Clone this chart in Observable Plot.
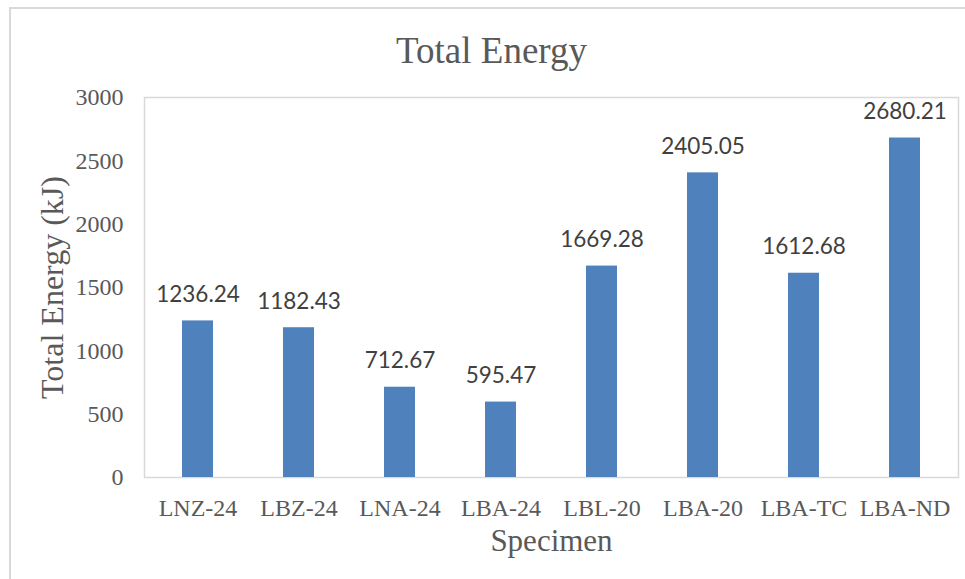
<!DOCTYPE html>
<html>
<head>
<meta charset="utf-8">
<script src="https://cdn.jsdelivr.net/npm/d3@7"></script>
<script src="https://cdn.jsdelivr.net/npm/@observablehq/plot@0.6"></script>
<style>
  html, body { margin: 0; padding: 0; background: #fff; overflow: hidden; }
  #wrap { position: relative; width: 965px; height: 579px; }
  #border { position: absolute; left: 9px; top: 7px; width: 1000px; height: 620px;
            border: 2px solid #d9d9d9; pointer-events: none; }
</style>
</head>
<body>
<div id="wrap"><div id="border"></div></div>
<script>
// Specimens and their total energy (kJ)
const specimens = ["LNZ-24", "LBZ-24", "LNA-24", "LBA-24", "LBL-20", "LBA-20", "LBA-TC", "LBA-ND"];
const energy = [1236.24, 1182.43, 712.67, 595.47, 1669.28, 2405.05, 1612.68, 2680.21];
const yTicks = [0, 500, 1000, 1500, 2000, 2500, 3000];

const rows = specimens.map((s, i) => ({specimen: s, energy: energy[i]}));

const serif = "'Liberation Serif', 'Times New Roman', serif";
const gray = "#595959";

const chart = Plot.plot({
  width: 965,
  height: 579,
  marginLeft: 144,
  marginRight: 7,
  marginTop: 97,
  marginBottom: 102,
  style: {fontFamily: serif, color: gray, background: "transparent", overflow: "visible"},
  x: {domain: specimens, paddingInner: 0.69, paddingOuter: 0.345, label: null},
  y: {domain: [0, 3000], label: null},
  marks: [
    Plot.frame({stroke: "#d9d9d9", strokeWidth: 1.5}),
    Plot.axisY({ticks: yTicks, tickFormat: d => String(d), tickSize: 0, tickPadding: 21,
                fontSize: 24, fill: gray, label: null}),
    Plot.axisX({tickSize: 0, tickPadding: 21, fontSize: 24, fill: gray, label: null}),
    Plot.barY(rows, {x: "specimen", y: "energy", fill: "#4F81BD"}),
    Plot.text(rows, {
      x: "specimen", y: "energy", text: d => d.energy.toFixed(2),
      lineAnchor: "bottom", dy: -19, fontSize: 22.5, fill: "#404040",
      fontFamily: "Lato, 'Open Sans', sans-serif"
    }),
    // chart title
    Plot.text(["Total Energy"], {
      frameAnchor: "top", dx: -60, dy: -35, lineAnchor: "bottom",
      fontSize: 37, fill: gray, fontFamily: serif
    }),
    // axis titles
    Plot.text(["Specimen"], {
      frameAnchor: "bottom", dy: 73, lineAnchor: "bottom",
      fontSize: 31, fill: gray, fontFamily: serif
    }),
    Plot.text(["Total Energy (kJ)"], {
      frameAnchor: "left", dx: -82, rotate: -90, textAnchor: "middle", lineAnchor: "bottom",
      fontSize: 32, fill: gray, fontFamily: serif
    })
  ]
});

document.getElementById("wrap").prepend(chart);
</script>
</body>
</html>
